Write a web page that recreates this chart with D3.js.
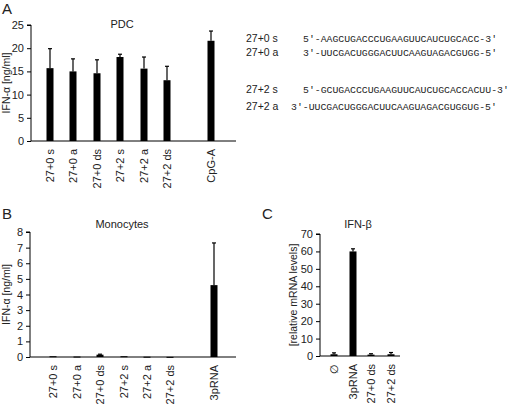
<!DOCTYPE html>
<html lang="en">
<head>
<meta charset="UTF-8" />
<style>
  body { margin: 0; background: #fff; }
  svg text { font-family: "Liberation Sans", Arial, sans-serif; fill: #222; }
  .seq { font-family: "Liberation Mono", "DejaVu Sans Mono", monospace; font-size: 9.8px; }
</style>
</head>
<body>
<svg id="fig" width="520" height="404"></svg>
<script src="https://cdn.jsdelivr.net/npm/d3@7"></script>
<script>
// data
const pdcCats = ['27+0 s', '27+0 a', '27+0 ds', '27+2 s', '27+2 a', '27+2 ds', 'CpG-A'];
const pdcVals = [15.7, 15.0, 14.6, 18.1, 15.6, 13.1, 21.6];
const pdcErr = [4.2, 2.7, 2.9, 0.6, 2.5, 3.0, 2.1];
const pdcTicks = [0, 5, 10, 15, 20, 25];

const monoCats = ['27+0 s', '27+0 a', '27+0 ds', '27+2 s', '27+2 a', '27+2 ds', '3pRNA'];
const monoVals = [0.05, 0.03, 0.15, 0.05, 0.02, 0.01, 4.6];
const monoErr = [0, 0, 0.03, 0, 0, 0, 2.7];
const monoTicks = [0, 1, 2, 3, 4, 5, 6, 7, 8];

const ifnbCats = ['\u2205', '3pRNA', '27+0 ds', '27+2 ds'];
const ifnbVals = [1.0, 60, 0.8, 1.0];
const ifnbErr = [0.8, 1.5, 0.5, 1.0];
const ifnbTicks = [0, 10, 20, 30, 40, 50, 60, 70];

const seqLabels = ['27+0 s', '27+0 a', '27+2 s', '27+2 a'];
const seqTexts = [
  "5'-AAGCUGACCCUGAAGUUCAUCUGCACC-3'",
  "3'-UUCGACUGGGACUUCAAGUAGACGUGG-5'",
  "5'-GCUGACCCUGAAGUUCAUCUGCACCACUU-3'",
  "3'-UUCGACUGGGACUUCAAGUAGACGUGGUG-5'"
];

const svg = d3.select('#fig');

// draws one bar panel; xs are bar centres
function panel(o) {
  const g = svg.append('g');
  const y = d3.scaleLinear().domain(o.domain).range([o.y0, o.y1]);
  const x = d3.scaleOrdinal().domain(o.cats).range(o.xs);

  g.append('g').attr('transform', `translate(${o.x0},0)`)
    .call(d3.axisLeft(y).tickValues(o.ticks).tickSize(4).tickPadding(3))
    .call(a => a.select('.domain').attr('d', `M-4,${o.y1}H0V${o.y0}`))
    .call(a => a.selectAll('text').style('font-size', '11px'));
  g.append('line').attr('x1', o.x0).attr('x2', o.xEnd)
    .attr('y1', o.y0).attr('y2', o.y0).attr('stroke', '#000');

  o.cats.forEach((c, i) => {
    const v = o.vals[i], e = o.errs[i];
    const cx = x(c);
    if (e > 0) {
      g.append('line').attr('x1', cx).attr('x2', cx)
        .attr('y1', y(v)).attr('y2', y(v + e)).attr('stroke', '#000').attr('stroke-width', 1.2);
      g.append('line').attr('x1', cx - 2).attr('x2', cx + 2)
        .attr('y1', y(v + e)).attr('y2', y(v + e)).attr('stroke', '#000').attr('stroke-width', 1.2);
    }
    g.append('rect').attr('x', cx - o.bw / 2).attr('width', o.bw)
      .attr('y', y(v)).attr('height', Math.max(o.y0 - y(v), 1)).attr('fill', '#000');
    g.append('text')
      .attr('transform', `translate(${cx + 4},${o.y0 + 8}) rotate(-90)`)
      .attr('text-anchor', 'end').style('font-size', '11px').text(c);
  });

  g.append('text').attr('x', o.titleX).attr('y', o.titleY)
    .attr('text-anchor', 'middle').style('font-size', '11px').text(o.title);
  g.append('text')
    .attr('transform', `translate(${o.ylabX},${(o.y0 + o.y1) / 2}) rotate(-90)`)
    .attr('text-anchor', 'middle').style('font-size', '10.5px').text(o.ylab);
}

panel({ cats: pdcCats, vals: pdcVals, errs: pdcErr, ticks: pdcTicks, domain: [0, 25],
  x0: 31, xEnd: 236, y0: 141, y1: 25, xs: [50, 73, 97, 120, 144, 167, 211], bw: 7,
  title: 'PDC', titleX: 122, titleY: 28, ylab: 'IFN-\u03b1  [ng/ml]', ylabX: 10 });

panel({ cats: monoCats, vals: monoVals, errs: monoErr, ticks: monoTicks, domain: [0, 8],
  x0: 30, xEnd: 236, y0: 357, y1: 232, xs: [53, 77, 100, 124, 147, 170, 214], bw: 7,
  title: 'Monocytes', titleX: 122, titleY: 228, ylab: 'IFN-\u03b1  [ng/ml]', ylabX: 10 });

panel({ cats: ifnbCats, vals: ifnbVals, errs: ifnbErr, ticks: ifnbTicks, domain: [0, 70],
  x0: 320, xEnd: 400, y0: 356, y1: 234, xs: [334, 353, 371, 391], bw: 7,
  title: 'IFN-\u03b2', titleX: 358, titleY: 228, ylab: '[relative mRNA levels]', ylabX: 297 });

// panel letters
[['A', 2, 14], ['B', 2, 219], ['C', 262, 219]].forEach(([t, x, yy]) =>
  svg.append('text').attr('x', x).attr('y', yy).style('font-size', '15px').text(t));

// sequences
const seqY = [42, 56, 93, 110];
const seqX = [303, 303, 303, 291];
seqLabels.forEach((l, i) => {
  svg.append('text').attr('x', 246).attr('y', seqY[i]).style('font-size', '10.5px').text(l);
  svg.append('text').attr('class', 'seq').attr('x', seqX[i]).attr('y', seqY[i]).text(seqTexts[i]);
});
</script>
</body>
</html>
